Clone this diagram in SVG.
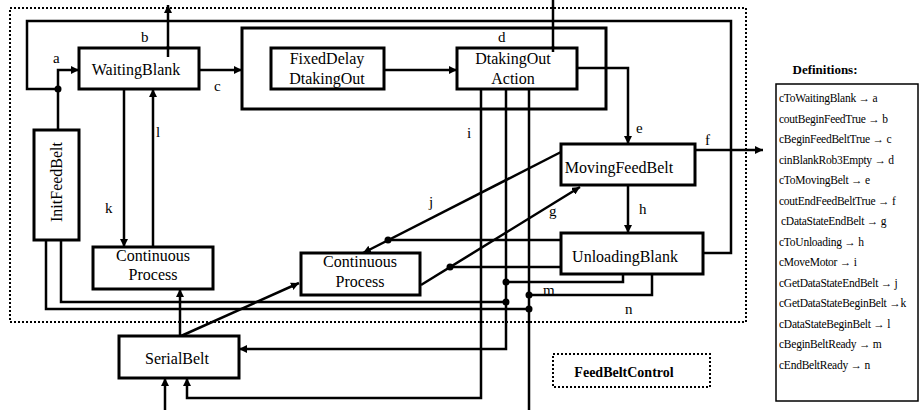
<svg xmlns="http://www.w3.org/2000/svg" width="921" height="410" viewBox="0 0 921 410">
<style>
.box{fill:#fff;stroke:#000;stroke-width:3}
.frame{fill:none;stroke:#000;stroke-width:2;stroke-dasharray:2,2}
.ln{fill:none;stroke:#000;stroke-width:2.5}
.t{font-family:"Liberation Serif","Times New Roman",serif;font-size:16px;fill:#000}
.lb{font-family:"Liberation Serif","Times New Roman",serif;font-size:15px;fill:#000}
.df{font-family:"Liberation Serif","Times New Roman",serif;font-size:11.5px;fill:#000;letter-spacing:-0.25px}
.bt{font-family:"Liberation Serif","Times New Roman",serif;font-weight:bold;fill:#000}
.dot{fill:#000}
</style>
<defs>
<marker id="ah" markerUnits="userSpaceOnUse" markerWidth="9" markerHeight="8" refX="8" refY="4" orient="auto">
<path d="M0,0 L8,4 L0,8 z" fill="#000"/>
</marker>
</defs>
<rect x="0" y="0" width="921" height="410" fill="#fff"/>
<rect class="frame" x="10" y="8" width="736" height="314"/>

<g id="superstate">
<rect class="box" x="242" y="28" width="364" height="81"/>
</g>

<g id="connectors">
<polyline class="ln" points="703,253 731,253 731,21 27,21 27,89 58,89"/>
<polyline class="ln" points="58,130 58,70 79,70" marker-end="url(#ah)"/>
<line class="ln" x1="168" y1="57" x2="168" y2="5" marker-end="url(#ah)"/>
<line class="ln" x1="199" y1="70" x2="242" y2="70" marker-end="url(#ah)"/>
<line class="ln" x1="384" y1="70" x2="457" y2="70" marker-end="url(#ah)"/>
<line class="ln" x1="553" y1="0" x2="553" y2="58" marker-end="url(#ah)"/>
<polyline class="ln" points="577,68 628,68 628,144" marker-end="url(#ah)"/>
<line class="ln" x1="692" y1="150" x2="763" y2="150" marker-end="url(#ah)"/>
<line class="ln" x1="628" y1="185" x2="628" y2="233" marker-end="url(#ah)"/>
<line class="ln" x1="561" y1="152" x2="363" y2="253" marker-end="url(#ah)"/>
<line class="ln" x1="561" y1="240" x2="388" y2="240"/>
<line class="ln" x1="421" y1="285" x2="580" y2="187" marker-end="url(#ah)"/>
<line class="ln" x1="561" y1="267" x2="450" y2="267"/>
<line class="ln" x1="124" y1="89" x2="124" y2="247" marker-end="url(#ah)"/>
<line class="ln" x1="153" y1="247" x2="153" y2="89" marker-end="url(#ah)"/>
<polyline class="ln" points="61,240 61,302 506,302"/>
<polyline class="ln" points="46,240 46,309 529,309"/>
<polyline class="ln" points="623,274 623,282 506,282"/>
<polyline class="ln" points="652,274 652,295 529,295"/>
<polyline class="ln" points="481,89 481,398 187,398 187,378" marker-end="url(#ah)"/>
<polyline class="ln" points="506,89 506,349 239,349" marker-end="url(#ah)"/>
<line class="ln" x1="529" y1="89" x2="529" y2="410"/>
<line class="ln" x1="165" y1="410" x2="165" y2="378" marker-end="url(#ah)"/>
<line class="ln" x1="180" y1="336" x2="180" y2="289" marker-end="url(#ah)"/>
<line class="ln" x1="181" y1="336" x2="299" y2="283" marker-end="url(#ah)"/>
<circle class="dot" cx="58" cy="89" r="3.5"/>
<circle class="dot" cx="388" cy="240" r="3.5"/>
<circle class="dot" cx="450" cy="267" r="3.5"/>
<circle class="dot" cx="506" cy="282" r="3.5"/>
<circle class="dot" cx="506" cy="302" r="3.5"/>
<circle class="dot" cx="529" cy="295" r="3.5"/>
<circle class="dot" cx="529" cy="309" r="3.5"/>
<text class="lb" x="53" y="63">a</text>
<text class="lb" x="141" y="42">b</text>
<text class="lb" x="214" y="91">c</text>
<text class="lb" x="498" y="42">d</text>
<text class="lb" x="636" y="133">e</text>
<text class="lb" x="705" y="145">f</text>
<text class="lb" x="549" y="216">g</text>
<text class="lb" x="639" y="214">h</text>
<text class="lb" x="467" y="138">i</text>
<text class="lb" x="429" y="207">j</text>
<text class="lb" x="105" y="213">k</text>
<text class="lb" x="156" y="137">l</text>
<text class="lb" x="543" y="295">m</text>
<text class="lb" x="625" y="314">n</text>
</g>

<g id="WaitingBlank">
<rect class="box" x="79" y="48" width="120" height="41"/>
<text class="t" x="136" y="75" text-anchor="middle">WaitingBlank</text>
</g>
<line class="ln" x1="168" y1="57" x2="168" y2="46"/>

<g id="FixedDelayDtakingOut">
<rect class="box" x="271" y="48" width="113" height="41"/>
<text class="t" x="327" y="64" text-anchor="middle">FixedDelay</text>
<text class="t" x="327" y="84" text-anchor="middle">DtakingOut</text>
</g>

<g id="DtakingOutAction">
<rect class="box" x="457" y="48" width="120" height="41"/>
<text class="t" x="513" y="64" text-anchor="middle">DtakingOut</text>
<text class="t" x="513" y="84" text-anchor="middle">Action</text>
</g>
<line class="ln" x1="553" y1="46" x2="553" y2="52"/>

<g id="InitFeedBelt">
<rect class="box" x="34" y="130" width="45" height="110"/>
<text class="t" x="0" y="0" text-anchor="middle" transform="translate(62,182) rotate(-90)">InitFeedBelt</text>
</g>

<g id="MovingFeedBelt">
<rect class="box" x="561" y="144" width="134" height="41"/>
<text class="t" x="619" y="173" text-anchor="middle">MovingFeedBelt</text>
</g>

<g id="UnloadingBlank">
<rect class="box" x="561" y="233" width="142" height="41"/>
<text class="t" x="625" y="262" text-anchor="middle">UnloadingBlank</text>
</g>

<g id="ContinuousProcess1">
<rect class="box" x="93" y="247" width="120" height="42"/>
<text class="t" x="153" y="261" text-anchor="middle">Continuous</text>
<text class="t" x="153" y="280" text-anchor="middle">Process</text>
</g>

<g id="ContinuousProcess2">
<rect class="box" x="301" y="253" width="119" height="42"/>
<text class="t" x="360" y="267" text-anchor="middle">Continuous</text>
<text class="t" x="360" y="287" text-anchor="middle">Process</text>
</g>

<g id="SerialBelt">
<rect class="box" x="119" y="336" width="120" height="42"/>
<text class="t" x="177" y="364" text-anchor="middle">SerialBelt</text>
</g>

<g id="FeedBeltControl">
<rect class="frame" x="553" y="354" width="157" height="33"/>
<text class="bt" x="624" y="377" font-size="14" text-anchor="middle">FeedBeltControl</text>
</g>

<g id="Definitions">
<text class="bt" x="825" y="74" font-size="13" text-anchor="middle">Definitions:</text>
<rect x="776" y="84" width="142" height="317" fill="#fff" stroke="#000" stroke-width="1.5"/>
<text class="df" x="779" y="102">cToWaitingBlank → a</text>
<text class="df" x="779" y="122.5">coutBeginFeedTrue → b</text>
<text class="df" x="779" y="143">cBeginFeedBeltTrue → c</text>
<text class="df" x="779" y="163.5">cinBlankRob3Empty → d</text>
<text class="df" x="779" y="184">cToMovingBelt → e</text>
<text class="df" x="779" y="204.5">coutEndFeedBeltTrue → f</text>
<text class="df" x="781" y="225">cDataStateEndBelt → g</text>
<text class="df" x="779" y="245.5">cToUnloading → h</text>
<text class="df" x="779" y="266">cMoveMotor → i</text>
<text class="df" x="779" y="286.5">cGetDataStateEndBelt → j</text>
<text class="df" x="779" y="307">cGetDataStateBeginBelt →k</text>
<text class="df" x="779" y="327.5">cDataStateBeginBelt → l</text>
<text class="df" x="779" y="348">cBeginBeltReady → m</text>
<text class="df" x="779" y="368.5">cEndBeltReady → n</text>
</g>
</svg>
